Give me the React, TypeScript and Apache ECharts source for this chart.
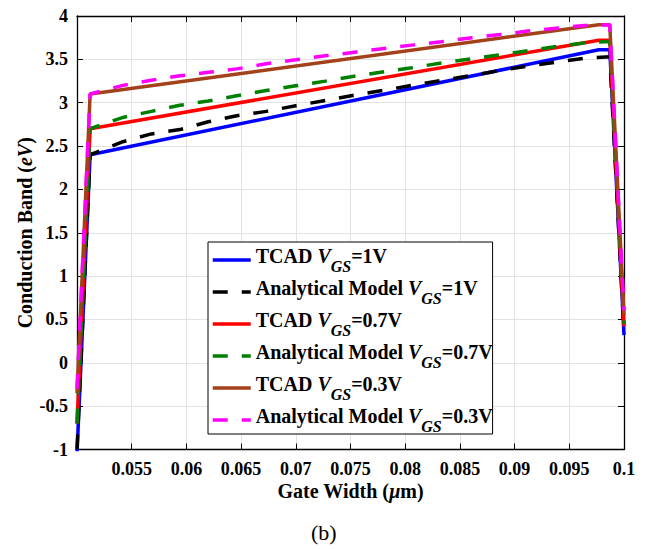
import React, { useEffect, useRef } from "react";
import * as echarts from "echarts";

// Gate width positions (µm)
const solidX = [0.05, 0.0512, 0.0977, 0.0987, 0.1];
const modelX = [0.05, 0.0512, 0.0542, 0.0568, 0.0594, 0.062, 0.0646, 0.0673, 0.07, 0.0727, 0.0752, 0.0779, 0.0806, 0.0833, 0.0861, 0.0887, 0.0912, 0.0938, 0.0964, 0.0987, 0.1];

// Conduction band (eV)
const tcad1 = [-1.05, 2.4, 3.61, 3.61, 0.32];
const model1 = [-1.0, 2.4, 2.55, 2.64, 2.69, 2.78, 2.85, 2.9, 2.965, 3.026, 3.084, 3.14, 3.2, 3.257, 3.314, 3.372, 3.421, 3.468, 3.514, 3.53, 0.35];
const tcad07 = [-0.7, 2.7, 3.72, 3.72, 0.42];
const model07 = [-0.7, 2.7, 2.83, 2.9, 2.97, 3.02, 3.08, 3.14, 3.195, 3.249, 3.303, 3.353, 3.403, 3.458, 3.507, 3.553, 3.6, 3.648, 3.69, 3.706, 0.45];
const tcad03 = [-0.35, 3.1, 3.9, 3.9, 0.55];
const model03 = [-0.3, 3.1, 3.2, 3.26, 3.31, 3.35, 3.39, 3.45, 3.495, 3.541, 3.58, 3.622, 3.664, 3.703, 3.749, 3.787, 3.826, 3.86, 3.89, 3.9, 0.6];

const seriesNames = [
  "TCAD VGS=1V",
  "Analytical Model VGS=1V",
  "TCAD VGS=0.7V",
  "Analytical Model VGS=0.7V",
  "TCAD VGS=0.3V",
  "Analytical Model VGS=0.3V",
];
const seriesColors = ["#0000ff", "#000000", "#ff0000", "#008000", "#a3421a", "#ff00ff"];

const F = "Liberation Serif";

function pairs(xs: number[], ys: number[]) {
  return xs.map((x, i) => [x, ys[i]]);
}

export default function App() {
  const ref = useRef<HTMLDivElement>(null);
  useEffect(() => {
    if (!ref.current) return;
    const chart = echarts.init(ref.current, undefined, { renderer: "svg" });
    const dataSets = [
      pairs(solidX, tcad1),
      pairs(modelX, model1),
      pairs(solidX, tcad07),
      pairs(modelX, model07),
      pairs(solidX, tcad03),
      pairs(modelX, model03),
    ];
    const series = dataSets.map((d, i) => ({
      name: seriesNames[i],
      type: "line",
      data: d,
      xAxisIndex: 0,
      yAxisIndex: 0,
      symbol: "none",
      showSymbol: false,
      clip: true,
      lineStyle: {
        color: seriesColors[i],
        width: 3.5,
        type: i % 2 === 1 ? [15, 14] : "solid",
        cap: "butt",
      },
      itemStyle: { color: seriesColors[i] },
    }));
    const tickStyle = { show: true, inside: true, length: 6, lineStyle: { color: "#000", width: 1 } };
    const axisLineStyle = { show: true, onZero: false, lineStyle: { color: "#000", width: 1.3 } };
    const labelStyle = { fontFamily: F, fontWeight: "bold", fontSize: 18, color: "#000" };
    const legendRich = {
      b: { fontFamily: F, fontWeight: "bold", fontSize: 20, lineHeight: 22, verticalAlign: "top", color: "#000" },
      i: { fontFamily: F, fontWeight: "bold", fontStyle: "italic", fontSize: 20, lineHeight: 22, verticalAlign: "top", color: "#000" },
      s: { fontFamily: F, fontWeight: "bold", fontStyle: "italic", fontSize: 16, lineHeight: 28, verticalAlign: "top", padding: [12, 0, 0, 0], color: "#000" },
    };
    chart.setOption({
      animation: false,
      backgroundColor: "#ffffff",
      grid: { left: 77, right: 30, top: 16, bottom: 99.5, containLabel: false },
      xAxis: [
        {
          type: "value",
          min: 0.05,
          max: 0.1,
          interval: 0.005,
          position: "bottom",
          axisLine: axisLineStyle,
          axisTick: tickStyle,
          axisLabel: { ...labelStyle, margin: 10, showMinLabel: false },
          splitLine: { show: true, lineStyle: { color: "#e3e3e3", width: 1 } },
          name: "{b|Gate Width (}{i|μ}{b|m)}",
          nameLocation: "middle",
          nameMoveOverlap: false,
          nameGap: 31,
          nameTextStyle: {
            rich: {
              b: { fontFamily: F, fontWeight: "bold", fontSize: 20, color: "#000" },
              i: { fontFamily: F, fontWeight: "bold", fontStyle: "italic", fontSize: 20, color: "#000" },
            },
          },
        },
        {
          type: "value",
          min: 0.05,
          max: 0.1,
          interval: 0.005,
          position: "top",
          axisLine: axisLineStyle,
          axisTick: tickStyle,
          axisLabel: { show: false },
          splitLine: { show: false },
        },
      ],
      yAxis: [
        {
          type: "value",
          min: -1,
          max: 4,
          interval: 0.5,
          position: "left",
          axisLine: axisLineStyle,
          axisTick: tickStyle,
          axisLabel: { ...labelStyle, margin: 9 },
          splitLine: { show: true, lineStyle: { color: "#e3e3e3", width: 1 } },
          name: "{b|Conduction Band (}{i|eV}{b|)}",
          nameLocation: "middle",
          nameMoveOverlap: false,
          nameGap: 42,
          nameTextStyle: {
            rich: {
              b: { fontFamily: F, fontWeight: "bold", fontSize: 20, color: "#000" },
              i: { fontFamily: F, fontWeight: "bold", fontStyle: "italic", fontSize: 20, color: "#000" },
            },
          },
        },
        {
          type: "value",
          min: -1,
          max: 4,
          interval: 0.5,
          position: "right",
          axisLine: axisLineStyle,
          axisTick: tickStyle,
          axisLabel: { show: false },
          splitLine: { show: false },
        },
      ],
      legend: {
        show: true,
        orient: "vertical",
        left: 208,
        top: 242,
        itemWidth: 38,
        itemHeight: 14,
        itemGap: 4,
        padding: [4, 0, 0, 3],
        backgroundColor: "#ffffff",
        borderColor: "#000",
        borderWidth: 1,
        itemStyle: { opacity: 0 },
        lineStyle: { width: 3.5 },
        data: seriesNames,
        formatter: (name: string) => {
          const m = name.match(/^(.*) VGS=(.*)$/);
          if (!m) return name;
          return `{b|${m[1]} }{i|V}{s|GS}{b|=${m[2]}}`;
        },
        textStyle: { rich: legendRich },
      },
      graphic: [
        {
          type: "text",
          left: 325 - 14,
          top: 521,
          style: { text: "(b)", fontFamily: F, fontSize: 22, fill: "#000" },
        },
      ],
      series,
    });
    return () => chart.dispose();
  }, []);
  return (
    <div
      ref={ref}
      style={{ position: "fixed", left: 0, top: 0, width: 654, height: 549, background: "#fff" }}
    />
  );
}
